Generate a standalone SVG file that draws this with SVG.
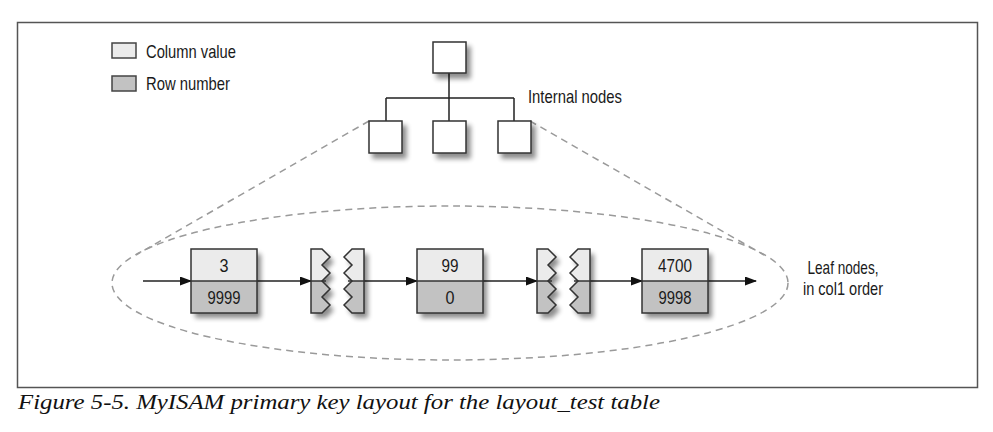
<svg xmlns="http://www.w3.org/2000/svg" width="993" height="432" viewBox="0 0 993 432">
  <style>
    .lbl { font-family: "Liberation Sans", Arial, sans-serif; font-size: 18.5px; fill: #1a1a1a; }
    .num { font-family: "Liberation Sans", Arial, sans-serif; font-size: 18.5px; fill: #1a1a1a; text-anchor: middle; }
    .box { fill: #ffffff; stroke: #333; stroke-width: 1.5; }
    .light { fill: #ebebeb; }
    .dark { fill: #c2c2c2; }
    .edge { fill: none; stroke: #333; stroke-width: 1.5; }
    .ln { stroke: #222; stroke-width: 1.5; fill: none; }
    .dash { fill: none; stroke: #9a9a9a; stroke-width: 1.5; stroke-dasharray: 7 5; }
    .cap { font-family: "Liberation Serif", "Times New Roman", serif; font-style: italic; font-size: 22px; fill: #111; }
  </style>
  <defs>
    <marker id="arr" markerUnits="userSpaceOnUse" markerWidth="12" markerHeight="10" refX="11" refY="4.5" orient="auto">
      <path d="M0,0 L12,4.5 L0,9 z" fill="#111"/>
    </marker>
    <filter id="sh" x="-30%" y="-30%" width="170%" height="170%">
      <feGaussianBlur in="SourceAlpha" stdDeviation="2.5"/>
      <feOffset dx="4" dy="5" result="b"/>
      <feComponentTransfer><feFuncA type="linear" slope="0.45"/></feComponentTransfer>
      <feMerge><feMergeNode/><feMergeNode in="SourceGraphic"/></feMerge>
    </filter>
    <g id="broken">
      <g filter="url(#sh)">
        <path class="dark" d="M0,0 L11,0 L19,8 L11,16 L19,24 L11,32 L19,40 L11,48 L19,56 L11,64 L0,64 Z"/>
        <path class="dark" d="M41,0 L53,0 L53,64 L41,64 L33,56 L41,48 L33,40 L41,32 L33,24 L41,16 L33,8 Z"/>
      </g>
      <path class="light" d="M0,0 L11,0 L19,8 L11,16 L19,24 L11,32 L0,32 Z"/>
      <path class="light" d="M41,0 L53,0 L53,32 L41,32 L33,24 L41,16 L33,8 Z"/>
      <path class="edge" d="M0,0 L11,0 L19,8 L11,16 L19,24 L11,32 L19,40 L11,48 L19,56 L11,64 L0,64 Z"/>
      <path class="edge" d="M41,0 L53,0 L53,64 L41,64 L33,56 L41,48 L33,40 L41,32 L33,24 L41,16 L33,8 Z"/>
      <line class="edge" x1="0" y1="32" x2="15" y2="32"/>
      <line class="edge" x1="37" y1="32" x2="53" y2="32"/>
    </g>
  </defs>

  <rect width="993" height="432" fill="#ffffff"/>
  <rect id="frame" x="17.5" y="22.5" width="960" height="365" fill="none" stroke="#555" stroke-width="1.5"/>

  <g id="legend">
    <rect x="112" y="43" width="24" height="15" fill="#ebebeb" stroke="#444" stroke-width="1.5"/>
    <text class="lbl" x="146" y="58" textLength="90" lengthAdjust="spacingAndGlyphs">Column value</text>
    <rect x="112" y="76" width="24" height="15" fill="#c2c2c2" stroke="#444" stroke-width="1.5"/>
    <text class="lbl" x="146" y="90" textLength="84" lengthAdjust="spacingAndGlyphs">Row number</text>
  </g>

  <g id="outline">
    <ellipse class="dash" cx="450" cy="283" rx="338" ry="77"/>
    <line class="dash" x1="369" y1="121" x2="136" y2="255"/>
    <line class="dash" x1="530" y1="121" x2="764" y2="255"/>
  </g>

  <g id="connectors">
    <path class="ln" d="M449,73 L449,121 M386,98 L514,98 M386,98 L386,121 M514,98 L514,121"/>
    <line class="ln" x1="143" y1="281" x2="191" y2="281" marker-end="url(#arr)"/>
    <line class="ln" x1="257" y1="281" x2="311" y2="281" marker-end="url(#arr)"/>
    <line class="ln" x1="364" y1="281" x2="417" y2="281" marker-end="url(#arr)"/>
    <line class="ln" x1="483" y1="281" x2="537" y2="281" marker-end="url(#arr)"/>
    <line class="ln" x1="590" y1="281" x2="642" y2="281" marker-end="url(#arr)"/>
    <line class="ln" x1="708" y1="281" x2="756" y2="281" marker-end="url(#arr)"/>
  </g>

  <g id="root-node"><rect class="box" x="433" y="42" width="33" height="31" filter="url(#sh)"/></g>
  <g id="internal-1"><rect class="box" x="369" y="121" width="33" height="32" filter="url(#sh)"/></g>
  <g id="internal-2"><rect class="box" x="433" y="121" width="33" height="32" filter="url(#sh)"/></g>
  <g id="internal-3"><rect class="box" x="498" y="121" width="33" height="32" filter="url(#sh)"/></g>
  <text class="lbl" x="528" y="103" textLength="94" lengthAdjust="spacingAndGlyphs">Internal nodes</text>

  <g id="leaf-1">
    <rect x="191" y="249" width="66" height="64" fill="#c2c2c2" filter="url(#sh)"/>
    <rect x="191" y="249" width="66" height="32" class="light"/>
    <rect x="191" y="249" width="66" height="64" class="edge"/>
    <line class="edge" x1="191" y1="281" x2="257" y2="281"/>
    <text class="num" x="224" y="272" textLength="9" lengthAdjust="spacingAndGlyphs">3</text>
    <text class="num" x="224" y="304" textLength="33" lengthAdjust="spacingAndGlyphs">9999</text>
  </g>

  <g id="gap-1"><use href="#broken" x="311" y="249"/></g>

  <g id="leaf-2">
    <rect x="417" y="249" width="66" height="64" fill="#c2c2c2" filter="url(#sh)"/>
    <rect x="417" y="249" width="66" height="32" class="light"/>
    <rect x="417" y="249" width="66" height="64" class="edge"/>
    <line class="edge" x1="417" y1="281" x2="483" y2="281"/>
    <text class="num" x="450" y="272" textLength="17" lengthAdjust="spacingAndGlyphs">99</text>
    <text class="num" x="450" y="304" textLength="9" lengthAdjust="spacingAndGlyphs">0</text>
  </g>

  <g id="gap-2"><use href="#broken" x="537" y="249"/></g>

  <g id="leaf-3">
    <rect x="642" y="249" width="66" height="64" fill="#c2c2c2" filter="url(#sh)"/>
    <rect x="642" y="249" width="66" height="32" class="light"/>
    <rect x="642" y="249" width="66" height="64" class="edge"/>
    <line class="edge" x1="642" y1="281" x2="708" y2="281"/>
    <text class="num" x="675" y="272" textLength="34" lengthAdjust="spacingAndGlyphs">4700</text>
    <text class="num" x="675" y="304" textLength="33" lengthAdjust="spacingAndGlyphs">9998</text>
  </g>

  <g id="leaf-label">
    <text class="num" x="843" y="274" textLength="71" lengthAdjust="spacingAndGlyphs">Leaf nodes,</text>
    <text class="num" x="843" y="295" textLength="80" lengthAdjust="spacingAndGlyphs">in col1 order</text>
  </g>

  <text class="cap" x="18" y="409" textLength="642" lengthAdjust="spacingAndGlyphs">Figure 5-5. MyISAM primary key layout for the layout_test table</text>
</svg>
